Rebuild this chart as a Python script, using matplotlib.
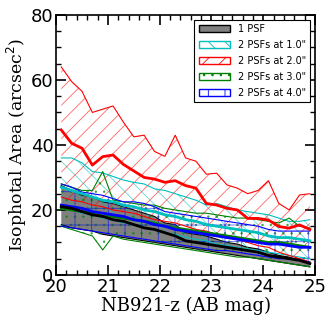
import matplotlib
matplotlib.use("Agg")
import matplotlib.pyplot as plt
import numpy as np
from matplotlib.patches import Patch

# magnitude bins (bin centres)
mag = [20.1, 20.3, 20.5, 20.7, 20.9, 21.1, 21.3, 21.5, 21.7, 21.9, 22.1, 22.3, 22.5,
       22.7, 22.9, 23.1, 23.3, 23.5, 23.7, 23.9, 24.1, 24.3, 24.5, 24.7, 24.9]

# 1 PSF
psf_hi = [27.5, 26, 24.5, 24, 22.5, 22, 21, 20, 19, 18, 16, 15.5, 13,
          12.5, 12, 11, 10, 9.5, 8.5, 8, 7, 6, 5.5, 4.5, 3.5]
psf_med = [21, 20.5, 19.5, 18.5, 18, 17, 16.5, 15.5, 14.5, 14, 13, 12, 10.5,
           10, 9.5, 9, 8.5, 8, 7.5, 7, 6, 5.5, 5, 4.5, 3.5]
psf_lo = [15.5, 14.5, 14, 13.5, 12.5, 12, 11.5, 11, 10.5, 10, 9.5, 9, 8.5,
          8, 7.5, 7, 6.5, 6, 5.5, 5, 4.5, 4, 3.5, 3, 2.5]

# 2 PSFs at 1.0"
s1_hi = [36, 36, 34.5, 31.8, 31.4, 30.3, 29.2, 28.5, 28, 26.5, 26, 25, 24,
         23, 21.5, 22, 21, 20, 19.5, 19, 18.5, 17.5, 16.5, 16.5, 17]
s1_med = [27, 26, 25, 24, 23, 22.5, 21.5, 21, 20, 19.5, 18.5, 18, 17,
          16.5, 15.5, 15, 14.5, 14, 13.5, 13, 12, 11.5, 11.5, 11, 10.5]
s1_lo = [21, 20, 19, 18.5, 17.5, 17, 16, 15.5, 14.5, 14, 13, 12.5, 11.5,
         11, 10.5, 9.5, 9, 8.5, 8, 7.5, 7, 6.5, 6, 5.5, 5]

# 2 PSFs at 2.0"
s2_hi = [64, 59.5, 56.5, 50, 51, 52, 47, 42.5, 43, 38, 36.5, 43, 36,
         35, 31, 31.3, 27.7, 26.7, 25, 26, 29, 22, 20, 24.6, 25]
s2_med = [44.6, 40.5, 39, 33.8, 36.4, 36.9, 34, 32, 30, 29.5, 28.5, 29, 27.5,
          26.7, 22, 21.5, 20.5, 20, 17.4, 17.4, 16.9, 14.9, 14.4, 15.4, 14]
s2_lo = [24, 23, 22.5, 21.5, 21, 20, 19.5, 19, 18, 17, 16.5, 16, 15,
         14, 13.5, 12.5, 12, 11, 10, 9, 8.5, 7, 6, 5, 4]

# 2 PSFs at 3.0"
s3_hi = [28, 27, 26, 26, 31.8, 23, 22.5, 22, 21.5, 21.5, 20.5, 20, 19.5,
         19, 19, 18.5, 18, 17.5, 17.5, 17, 16.5, 16, 17.5, 15, 14.5]
s3_med = [20.5, 20, 19.5, 19, 18, 18, 17.5, 17, 16.5, 16, 15, 14.5, 14,
          13.5, 13, 12.5, 12, 11.5, 11, 10.5, 10, 10, 9.5, 9, 8.5]
s3_lo = [15, 14, 13, 12, 7.7, 12, 11, 10.5, 10, 9.5, 9, 8.5, 8,
         7.5, 7, 6.5, 6, 5.5, 5.5, 5, 4.5, 4, 3.5, 3, 2.5]

# 2 PSFs at 4.0"
s4_hi = [28, 27, 25.5, 25, 24.5, 23.5, 22.5, 22.5, 22, 21, 19.5, 19, 18.5,
         18, 17.5, 17, 16.5, 16, 15.5, 15, 14, 13.5, 13.5, 13.5, 13.5]
s4_med = [21.5, 21, 20.5, 19.5, 19, 18.5, 18, 17, 16.5, 15.5, 15, 14, 13.5,
          13, 12.5, 12, 11.5, 11, 10.5, 10, 9.5, 9.5, 9, 8.5, 8.5]
s4_lo = [15, 14.5, 14, 13.5, 13, 12.5, 12, 11.5, 11, 10.5, 10, 9.5, 9,
         8.5, 8, 7.5, 7.5, 7, 6.5, 6, 5.5, 5, 5, 4.5, 4]

labels = ['1 PSF', '2 PSFs at 1.0"', '2 PSFs at 2.0"', '2 PSFs at 3.0"', '2 PSFs at 4.0"']

plt.rcParams['hatch.linewidth'] = 0.6

fig = plt.figure(figsize=(3.32, 3.25), dpi=100)
ax = fig.add_axes([0.169, 0.154, 0.780, 0.800])

# 1 PSF: solid gray band
ax.fill_between(mag, psf_lo, psf_hi, facecolor='gray', edgecolor='none', zorder=1)
ax.plot(mag, psf_hi, c='k', lw=0.8, zorder=2)
ax.plot(mag, psf_lo, c='k', lw=0.8, zorder=2)
ax.plot(mag, psf_med, c='k', lw=2, zorder=6)

bands = [(s1_lo, s1_med, s1_hi, 'c', '\\\\'),
         (s2_lo, s2_med, s2_hi, 'r', '//'),
         (s3_lo, s3_med, s3_hi, 'g', '..'),
         (s4_lo, s4_med, s4_hi, 'b', '+')]
for lo, med, hi, col, hat in bands:
    ax.fill_between(mag, lo, hi, facecolor='none', edgecolor=col, hatch=hat,
                    lw=0, alpha=0.6, zorder=3)
    ax.plot(mag, hi, c=col, lw=0.8, zorder=4)
    ax.plot(mag, lo, c=col, lw=0.8, zorder=4)
    ax.plot(mag, med, c=col, lw=2, zorder=5)

ax.set_xlim(20, 25)
ax.set_ylim(0, 80)
ax.set_xticks([20, 21, 22, 23, 24, 25])
ax.set_yticks([0, 20, 40, 60, 80])
ax.set_xticks(np.arange(20, 25.01, 0.2), minor=True)
ax.set_yticks(np.arange(0, 80.01, 5), minor=True)
ax.tick_params(which='both', direction='in', top=True, right=True, labelsize=13)
ax.tick_params(which='major', length=7, width=1.2, pad=2)
ax.tick_params(which='minor', length=3.5, width=1)
for sp in ax.spines.values():
    sp.set_linewidth(1.2)

ax.set_xlabel('NB921-z (AB mag)', family='DejaVu Serif', fontsize=13, labelpad=1)
ax.set_ylabel('Isophotal Area (arcsec$^2$)', family='DejaVu Serif', fontsize=12.5, labelpad=1)

handles = [Patch(facecolor='gray', edgecolor='k', label=labels[0]),
           Patch(facecolor='none', edgecolor='c', hatch='\\\\', label=labels[1]),
           Patch(facecolor='none', edgecolor='r', hatch='//', label=labels[2]),
           Patch(facecolor='none', edgecolor='g', hatch='..', label=labels[3]),
           Patch(facecolor='none', edgecolor='b', hatch='|', label=labels[4])]
leg = ax.legend(handles=handles, loc='upper right', fontsize=7, fancybox=False,
                edgecolor='k', framealpha=1, handlelength=3.2, borderpad=0.45,
                labelspacing=0.6, handletextpad=0.8)
leg.get_frame().set_linewidth(0.8)

fig.savefig('out.png', dpi=100)
